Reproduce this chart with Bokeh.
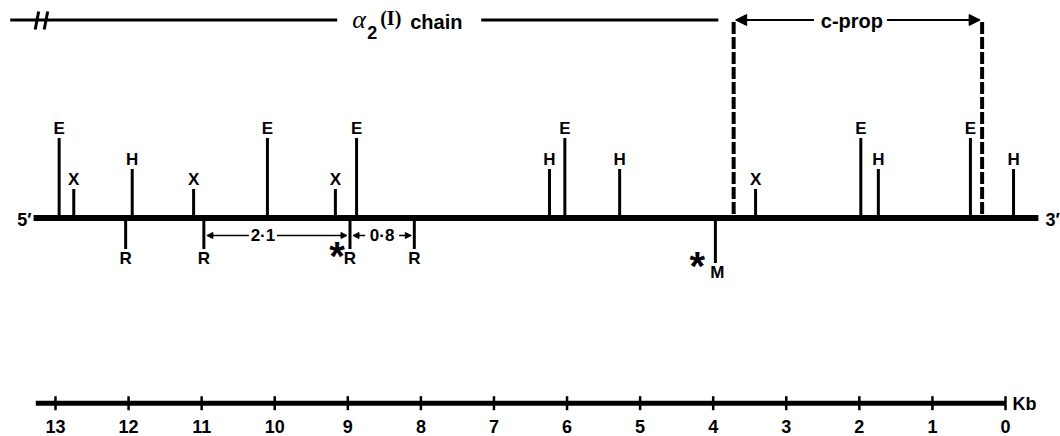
from bokeh.plotting import figure
from bokeh.models import Range1d, Arrow, NormalHead
from bokeh.core.properties import value
from bokeh.embed import file_html
from bokeh.resources import INLINE

# ---------------- data (positions in kb) ----------------
E_sites = [12.95, 10.10, 8.88, 6.03, 1.98, 0.48]
H_sites = [11.95, 6.24, 5.28, 1.74, -0.11]
X_sites = [12.75, 11.11, 9.17, 3.42]
R_sites = [12.04, 10.97, 8.97, 8.09]
M_sites = [3.97]
starred_R = [8.97]
starred_M = [3.97]
dist_labels = ["2·1", "0·8"]
dist_from = [10.97, 8.97]
dist_to = [8.97, 8.09]
map_span = [13.30, -0.45]
chain_span = [13.62, 3.93]
chain_label_at = 8.16
cprop_span = [3.72, 0.32]
scale_span = [13.27, 0.0]
scale_ticks = [13, 12, 11, 10, 9, 8, 7, 6, 5, 4, 3, 2, 1, 0]
scale_labels = [str(t) for t in scale_ticks]

# ---------------- layout ----------------
W, H = 1060, 436
XR = Range1d(13.7526, -0.7526)
KPP = (XR.start - XR.end) / W        # kb per pixel


def right(x, d):
    """position d pixels to the right of kb position x"""
    return x - d * KPP


MAP_Y, TOP_Y, AX_Y = 217.5, 19.5, 402.7
SANS = value("Liberation Sans")
SERIF = value("Liberation Serif")

p = figure(width=W, height=H, x_range=XR, y_range=Range1d(H, 0),
           output_backend="svg", toolbar_location=None, min_border=0,
           x_axis_location=None, y_axis_location=None)
p.grid.visible = False
p.outline_line_color = None
p.background_fill_color = "white"
p.border_fill_color = "white"


def lbl(x, y, t, size=17, align="center", font=SANS, style="bold", x_offset=0):
    # y is the intended baseline; small correction for the renderer's baseline
    yy = [v - 0.3 * size for v in y]
    p.text(x=x, y=yy, text=t, text_font=font, text_font_style=style,
           text_font_size=f"{size}px", text_align=align,
           text_baseline="alphabetic", text_color="black", x_offset=x_offset)


# main map line
p.segment(x0=[map_span[0]], y0=[MAP_Y], x1=[map_span[1]], y1=[MAP_Y],
          line_width=6, color="black")
lbl([map_span[0]], [225], ["5\u2032"], size=18, align="right", x_offset=-2)
lbl([map_span[1]], [225], ["3\u2032"], size=18, align="left", x_offset=7)

# sites above the line
up = [("E", E_sites, 80), ("H", H_sites, 49), ("X", X_sites, 29)]
for name, xs, h in up:
    n = len(xs)
    p.segment(x0=xs, y0=[MAP_Y] * n, x1=xs, y1=[MAP_Y - h] * n,
              line_width=3, color="black")
    lbl(xs, [MAP_Y - h - 4] * n, [name] * n)

# sites below the line
down = [("R", R_sites, 31, 0), ("M", M_sites, 45, 2)]
for name, xs, h, off in down:
    n = len(xs)
    p.segment(x0=xs, y0=[MAP_Y] * n, x1=xs, y1=[MAP_Y + h] * n,
              line_width=3, color="black")
    lbl(xs, [MAP_Y + h + 15] * n, [name] * n, x_offset=off)

# asterisks
lbl(starred_R, [267] * len(starred_R), ["*"] * len(starred_R), size=40, x_offset=-13)
lbl(starred_M, [277] * len(starred_M), ["*"] * len(starred_M), size=40, x_offset=-18)

# distance annotations
dist_shift = [-14, 0]
dist_gap = [14, 17]
DY = 235
for t, a, b, s, g in zip(dist_labels, dist_from, dist_to, dist_shift, dist_gap):
    c = right((a + b) / 2, s)
    lbl([c], [DY + 5.5], [t], size=17)
    for x_start, x_end in [(right(c, -g), right(a, 3)), (right(c, g), right(b, -3))]:
        p.add_layout(Arrow(end=NormalHead(size=6, fill_color="black", line_color="black"),
                           x_start=x_start, y_start=DY, x_end=x_end, y_end=DY,
                           line_width=1.5, line_color="black"))

# alpha2(I) chain line
p.segment(x0=[chain_span[0], right(chain_label_at, 72)],
          y0=[TOP_Y, TOP_Y],
          x1=[right(chain_label_at, -72), chain_span[1]],
          y1=[TOP_Y, TOP_Y], line_width=3, color="black")
# break marks
for dx in (25, 34):
    p.segment(x0=[right(chain_span[0], dx)], y0=[29],
              x1=[right(chain_span[0], dx + 3.5)], y1=[11],
              line_width=3, color="black")
lbl([chain_label_at], [27], ["\u03b1"], size=26, align="left", font=SERIF,
    style="italic", x_offset=-57)
lbl([chain_label_at], [37], ["2"], size=18, align="left", x_offset=-42)
lbl([chain_label_at], [23.5], ["(I)"], size=20, align="left", font=SERIF,
    x_offset=-29)
lbl([chain_label_at], [27], ["chain"], size=20, align="left", x_offset=1)

# c-prop region
p.segment(x0=cprop_span, y0=[TOP_Y + 2] * 2, x1=cprop_span, y1=[MAP_Y] * 2,
          line_width=4, color="black", line_dash="12 3")
cc = right((cprop_span[0] + cprop_span[1]) / 2, -6)
lbl([cc], [26], ["c-prop"], size=20)
for x_start, x_end in [(right(cc, -38), right(cprop_span[0], 2)),
                       (right(cc, 35), right(cprop_span[1], -2))]:
    p.add_layout(Arrow(end=NormalHead(size=11, fill_color="black", line_color="black"),
                       x_start=x_start, y_start=TOP_Y, x_end=x_end, y_end=TOP_Y,
                       line_width=2, line_color="black"))

# kb scale
p.segment(x0=[scale_span[0]], y0=[AX_Y], x1=[scale_span[1]], y1=[AX_Y],
          line_width=5, color="black")
nt = len(scale_ticks)
p.segment(x0=scale_ticks, y0=[AX_Y - 7] * nt, x1=scale_ticks, y1=[AX_Y + 7] * nt,
          line_width=2.5, color="black")
lbl(scale_ticks, [431] * nt, scale_labels, size=18)
lbl([scale_span[1]], [AX_Y + 6], ["Kb"], size=18, align="left", x_offset=7)

open("out.html", "w").write(file_html(p, INLINE))
